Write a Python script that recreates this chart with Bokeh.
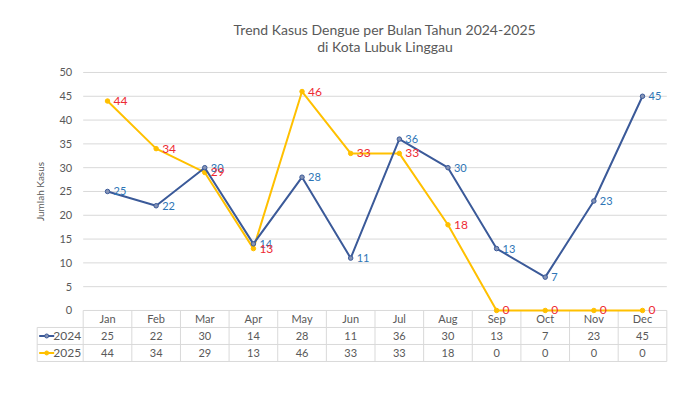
import numpy as np
from bokeh.plotting import figure
from bokeh.core.properties import value
from bokeh.embed import file_html
from bokeh.resources import INLINE

# ---- data ----
months = ["Jan", "Feb", "Mar", "Apr", "May", "Jun", "Jul", "Aug", "Sep", "Oct", "Nov", "Dec"]
cases_2024 = [25, 22, 30, 14, 28, 11, 36, 30, 13, 7, 23, 45]
cases_2025 = [44, 34, 29, 13, 46, 33, 33, 18, 0, 0, 0, 0]
series_names = ["2024", "2025"]
y_ticks = [0, 5, 10, 15, 20, 25, 30, 35, 40, 45, 50]
title_lines = ["Trend Kasus Dengue per Bulan Tahun 2024-2025", "di Kota Lubuk Linggau"]
y_title = "Jumlah Kasus"

# ---- style ----
C2024 = "#3B5A99"
C2024_MARK = "#8593B5"
C2025 = "#FFC000"
LBL2024 = "#2E75B6"
LBL2025 = "#EE2A33"
TXT = "#595959"
GRID = "#D9D9D9"
FONT = value("Lato")

PXX = 48.636   # px per column
PXY = 4.76     # px per case
row_h = 17 / PXY
leg_w = 46 / PXX

x = np.arange(len(months))
n = len(months)

p = figure(width=684, height=381,
           x_range=(-1.5832, 11.7813), y_range=(-13.66, 61.97),
           min_border_left=30, min_border_right=4, min_border_top=15, min_border_bottom=6,
           x_axis_location=None, y_axis_location=None,
           output_backend="svg", toolbar_location=None)
p.outline_line_color = None
p.xgrid.visible = False
p.ygrid.visible = False
p.background_fill_color = "white"
p.border_fill_color = "white"

left = -0.5
right = n - 0.5
leg_left = left - leg_w

# gridlines
p.segment(x0=[left] * len(y_ticks), y0=y_ticks, x1=[right] * len(y_ticks), y1=y_ticks,
          line_color=GRID, line_width=1)

# y tick labels
p.text(x=[left] * len(y_ticks), y=y_ticks, text=[str(t) for t in y_ticks],
       x_offset=-11, text_align="right", text_baseline="middle",
       text_font=FONT, text_font_size="11px", text_color=TXT)

# y title
p.text(x=[left], y=[(y_ticks[0] + y_ticks[-1]) / 2], text=[y_title], x_offset=-43,
       angle=np.pi / 2, text_align="center", text_baseline="middle",
       text_font=FONT, text_font_size="10px", text_color=TXT)

# title
p.text(x=[(n - 1) / 2] * 2, y=[y_ticks[-1]] * 2, text=title_lines, x_offset=10,
       y_offset=[-43, -26], text_align="center", text_baseline="middle",
       text_font=FONT, text_font_size="14px", text_color=TXT)

# table lines
hy = [-row_h, -2 * row_h, -3 * row_h]
p.segment(x0=[leg_left] * 3, y0=hy, x1=[right] * 3, y1=hy, line_color=GRID, line_width=1)
vx = [left + i for i in range(n + 1)]
p.segment(x0=vx, y0=[0] * len(vx), x1=vx, y1=[-3 * row_h] * len(vx), line_color=GRID, line_width=1)
p.segment(x0=[leg_left], y0=[-row_h], x1=[leg_left], y1=[-3 * row_h], line_color=GRID, line_width=1)

# table texts
p.text(x=x, y=[-0.5 * row_h] * n, text=months, text_align="center", text_baseline="middle",
       text_font=FONT, text_font_size="11px", text_color=TXT)
p.text(x=x, y=[-1.5 * row_h] * n, text=[str(v) for v in cases_2024], text_align="center",
       text_baseline="middle", text_font=FONT, text_font_size="11px", text_color=TXT)
p.text(x=x, y=[-2.5 * row_h] * n, text=[str(v) for v in cases_2025], text_align="center",
       text_baseline="middle", text_font=FONT, text_font_size="11px", text_color=TXT)

# legend keys in table
for i, (name, lc, mc) in enumerate(zip(series_names, [C2024, C2025], [C2024_MARK, C2025])):
    yy = -(1.5 + i) * row_h
    p.segment(x0=[leg_left + 2 / PXX], y0=[yy], x1=[leg_left + 17 / PXX], y1=[yy],
              line_color=lc, line_width=2)
    p.scatter(x=[leg_left + 9.5 / PXX], y=[yy], size=4, fill_color=mc, line_color=lc)
    p.text(x=[left], y=[yy], text=[name], x_offset=-2, text_align="right", text_baseline="middle",
           text_font=FONT, text_font_size="12px", text_color=TXT)

# series lines
p.line(x, cases_2025, line_color=C2025, line_width=2)
p.scatter(x, cases_2025, size=4.5, fill_color=C2025, line_color=C2025)
p.line(x, cases_2024, line_color=C2024, line_width=2)
p.scatter(x, cases_2024, size=4.5, fill_color=C2024_MARK, line_color=C2024)

# data labels
p.text(x=x, y=cases_2024, text=[str(v) for v in cases_2024], x_offset=6,
       text_align="left", text_baseline="middle", text_font=FONT,
       text_font_size="11px", text_color=LBL2024)
p.text(x=x, y=cases_2025, text=[str(v) for v in cases_2025], x_offset=6,
       text_align="left", text_baseline="middle", text_font=FONT,
       text_font_size="12px", text_color=LBL2025)

open("out.html", "w").write(file_html(p, INLINE))
